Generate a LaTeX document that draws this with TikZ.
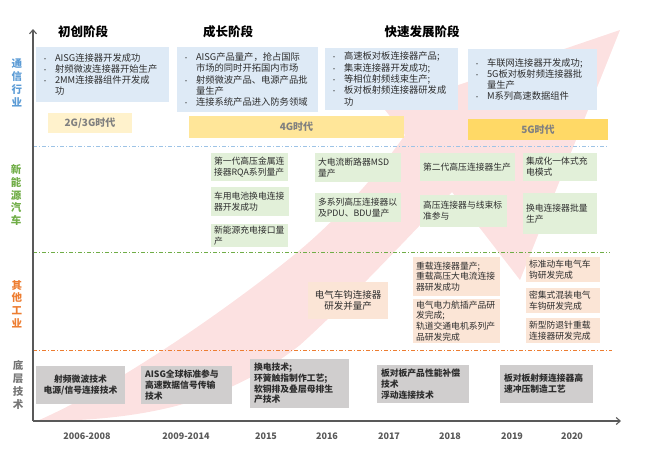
\documentclass[tikz,border=0pt]{standalone}
\usepackage{fontspec}
\setmainfont{Noto Sans CJK SC}
\usetikzlibrary{arrows.meta}

\definecolor{txt}{RGB}{45,45,45}
\definecolor{bluefill}{RGB}{222,234,246}
\definecolor{grnfill}{RGB}{226,240,217}
\definecolor{orgfill}{RGB}{251,229,214}
\definecolor{grayfill}{RGB}{208,206,206}
\definecolor{era2}{RGB}{255,242,204}
\definecolor{era4}{RGB}{255,230,153}
\definecolor{era5}{RGB}{255,217,102}
\definecolor{eratxt}{RGB}{128,128,128}
\definecolor{sideblue}{RGB}{91,155,213}
\definecolor{sidegreen}{RGB}{112,173,71}
\definecolor{sideorange}{RGB}{237,125,49}
\definecolor{sidegray}{RGB}{118,118,118}
\definecolor{sepblue}{RGB}{157,195,230}
\definecolor{axisgray}{RGB}{89,89,89}
\definecolor{arrowpink}{RGB}{252,225,225}

\newcommand{\bul}{\makebox[13pt][l]{\fontsize{6}{6}\selectfont\textbullet}}
\newcommand{\ind}{\hspace*{13pt}}

\begin{document}
\begin{tikzpicture}[x=1pt,y=-1pt]
  \tikzstyle{stage}=[font=\fontsize{12.5}{14}\selectfont\bfseries, text=black]
  \tikzstyle{blubox}=[fill=bluefill, text=txt, align=left, inner xsep=6pt, inner ysep=2pt,
                      font=\fontsize{9.3}{11.3}\selectfont]
  \tikzstyle{grnbox}=[fill=grnfill, text=txt, align=left, inner xsep=3pt, inner ysep=1pt,
                      font=\fontsize{8.8}{10.8}\selectfont]
  \tikzstyle{orgbox}=[fill=orgfill, text=txt, align=left, inner xsep=3pt, inner ysep=1pt,
                      font=\fontsize{8.8}{10.8}\selectfont]
  \tikzstyle{techbox}=[fill=grayfill, text=txt, align=left, inner xsep=4pt, inner ysep=1pt,
                       font=\fontsize{8.8}{10.8}\selectfont\bfseries]
  \tikzstyle{erabar}=[text=eratxt, font=\fontsize{10}{12}\selectfont\bfseries]
  \tikzstyle{sidelbl}=[align=center, font=\fontsize{10.5}{12.8}\selectfont\bfseries]
  \tikzstyle{yearlbl}=[text=axisgray, font=\fontsize{9}{11}\selectfont\bfseries]
  \tikzstyle{sepline}=[line width=1pt, dash pattern=on 4pt off 2pt on 1pt off 2pt]

  \useasboundingbox (0,0) rectangle (645,453);

  % big curved arrow in the back
  \fill[arrowpink] (37,421) .. controls (120,385) and (240,300) .. (300,250)
    .. controls (345,212) and (380,170) .. (405,135)
    -- (385,110) -- (620,30) -- (520,280) -- (452,192)
    .. controls (410,235) and (350,300) .. (300,345)
    .. controls (230,400) and (150,421) .. (37,421) -- cycle;

  % separators between the rows
  \coordinate (s1a) at (33,146);  \coordinate (s1b) at (608,146);
  \coordinate (s2a) at (33,252);  \coordinate (s2b) at (610,252);
  \coordinate (s3a) at (33,350);  \coordinate (s3b) at (612,350);
  \draw[sepline, sepblue] (s1a) -- (s1b);
  \draw[sepline, sidegreen] (s2a) -- (s2b);
  \draw[sepline, sideorange] (s3a) -- (s3b);

  % axes
  \coordinate (o) at (33,421);
  \coordinate (ytip) at (33,29);
  \coordinate (xtip) at (621,421);
  \draw[axisgray, line width=1.1pt, -{Straight Barb[length=4pt,width=7pt]}] (o) -- (ytip);
  \draw[axisgray, line width=1.1pt, -{Straight Barb[length=4pt,width=7pt]}] (o) -- (xtip);

  % row labels
  \node[sidelbl, text=sideblue] (lab1) at (17,83) {通\\信\\行\\业};
  \node[sidelbl, text=sidegreen] (lab2) at (16,195) {新\\能\\源\\汽\\车};
  \node[sidelbl, text=sideorange] (lab3) at (17,304) {其\\他\\工\\业};
  \node[sidelbl, text=sidegray] (lab4) at (18,385) {底\\层\\技\\术};

  % stages
  \node[stage] (st1) at (83,32) {初创阶段};
  \node[stage] (st2) at (228,32) {成长阶段};
  \node[stage] (st3) at (422,32) {快速发展阶段};

  % communication
  \node[blubox, text width=121, minimum height=55] (bx1) at (102.5,74.5)
    {\bul AISG连接器开发成功\\
     \bul 射频微波连接器开始生产\\
     \bul 2MM连接器组件开发成\\
     \ind 功};
  \node[blubox, text width=129, minimum height=65] (bx2) at (247.5,79.5)
    {\bul AISG产品量产，抢占国际\\
     \ind 市场的同时开拓国内市场\\
     \bul 射频微波产品、电源产品批\\
     \ind 量生产\\
     \bul 连接系统产品进入防务领域};
  \node[blubox, text width=121, minimum height=62] (bx3) at (391.5,79)
    {\bul 高速板对板连接器产品;\\
     \bul 集束连接器开发成功;\\
     \bul 等相位射频线束生产;\\
     \bul 板对板射频连接器研发成\\
     \ind 功};
  \node[blubox, text width=117, minimum height=61] (bx4) at (532.5,79.5)
    {\bul 车联网连接器开发成功;\\
     \bul 5G板对板射频连接器批\\
     \ind 量生产\\
     \bul M系列高速数据组件};

  % eras
  \node[erabar, fill=era2, minimum width=84, minimum height=20] (g23) at (90,123) {2G/3G时代};
  \node[erabar, fill=era4, minimum width=215, minimum height=22] (g4) at (296.5,127) {4G时代};
  \node[erabar, fill=era5, minimum width=140, minimum height=21] (g5) at (538,129.5) {5G时代};

  % new energy vehicles
  \node[grnbox, text width=71, minimum height=28] (nev1) at (249.5,167) {第一代高压金属连\\接器RQA系列量产};
  \node[grnbox, text width=72, minimum height=29] (nev2) at (250,201.5) {车用电池换电连接\\器开发成功};
  \node[grnbox, text width=71, minimum height=23] (nev3) at (249.5,235.5) {新能源充电接口量\\产};
  \node[grnbox, text width=80, minimum height=29] (nev4) at (358,167.5) {大电流断路器MSD\\量产};
  \node[grnbox, text width=80, minimum height=29] (nev5) at (358,207.5) {多系列高压连接器以\\及PDU、BDU量产};
  \node[grnbox, text width=89, minimum height=28] (nev6) at (467.5,167) {第二代高压连接器生产};
  \node[grnbox, text width=81, minimum height=32] (nev7) at (463.5,211) {高压连接器与线束标\\准参与};
  \node[grnbox, text width=68, minimum height=28] (nev8) at (560,167) {集成化一体式充\\电模式};
  \node[grnbox, text width=68, minimum height=41] (nev9) at (560,213.5) {换电连接器批量\\生产};

  % other industry
  \node[orgbox, align=center, text width=74, minimum height=37, font=\fontsize{9.5}{11.5}\selectfont]
    (ind1) at (348,300.5) {电气车钩连接器\\研发并量产};
  \node[orgbox, text width=81, minimum height=39] (ind2) at (456.5,276.5)
    {重载连接器量产;\\重载高压大电流连接\\器研发成功};
  \node[orgbox, text width=81, minimum height=44] (ind3) at (456.5,321)
    {电气电力航插产品研\\发完成;\\轨道交通电机系列产\\品研发完成};
  \node[orgbox, text width=68, minimum height=25] (ind4) at (563,269.5) {标准动车电气车\\钩研发完成};
  \node[orgbox, text width=68, minimum height=25] (ind5) at (563,300.5) {密集式混装电气\\车钩研发完成};
  \node[orgbox, text width=68, minimum height=25] (ind6) at (563,330.5) {新型防退针重载\\连接器研发完成};

  % base technology
  \node[techbox, align=center, text width=81, minimum height=38] (tec1) at (80.5,385)
    {射频微波技术\\电源/信号连接技术};
  \node[techbox, text width=83, minimum height=38] (tec2) at (186.5,385)
    {AISG全球标准参与\\高速数据信号传输\\技术};
  \node[techbox, text width=91, minimum height=49] (tec3) at (299.5,383.5)
    {换电技术;\\环簧触指制作工艺;\\软铜排及叠层母排生\\产技术};
  \node[techbox, text width=84, minimum height=38] (tec4) at (423,384)
    {板对板产品性能补偿\\技术\\浮动连接技术};
  \node[techbox, text width=85, minimum height=38] (tec5) at (546.5,384)
    {板对板射频连接器高\\速冲压制造工艺};

  % years
  \foreach \yr/\x in {2006-2008/87, 2009-2014/186, 2015/266, 2016/327,
                      2017/389, 2018/450, 2019/512, 2020/572}
    \node[yearlbl] (yr\x) at (\x,436) {\yr};
\end{tikzpicture}
\end{document}
